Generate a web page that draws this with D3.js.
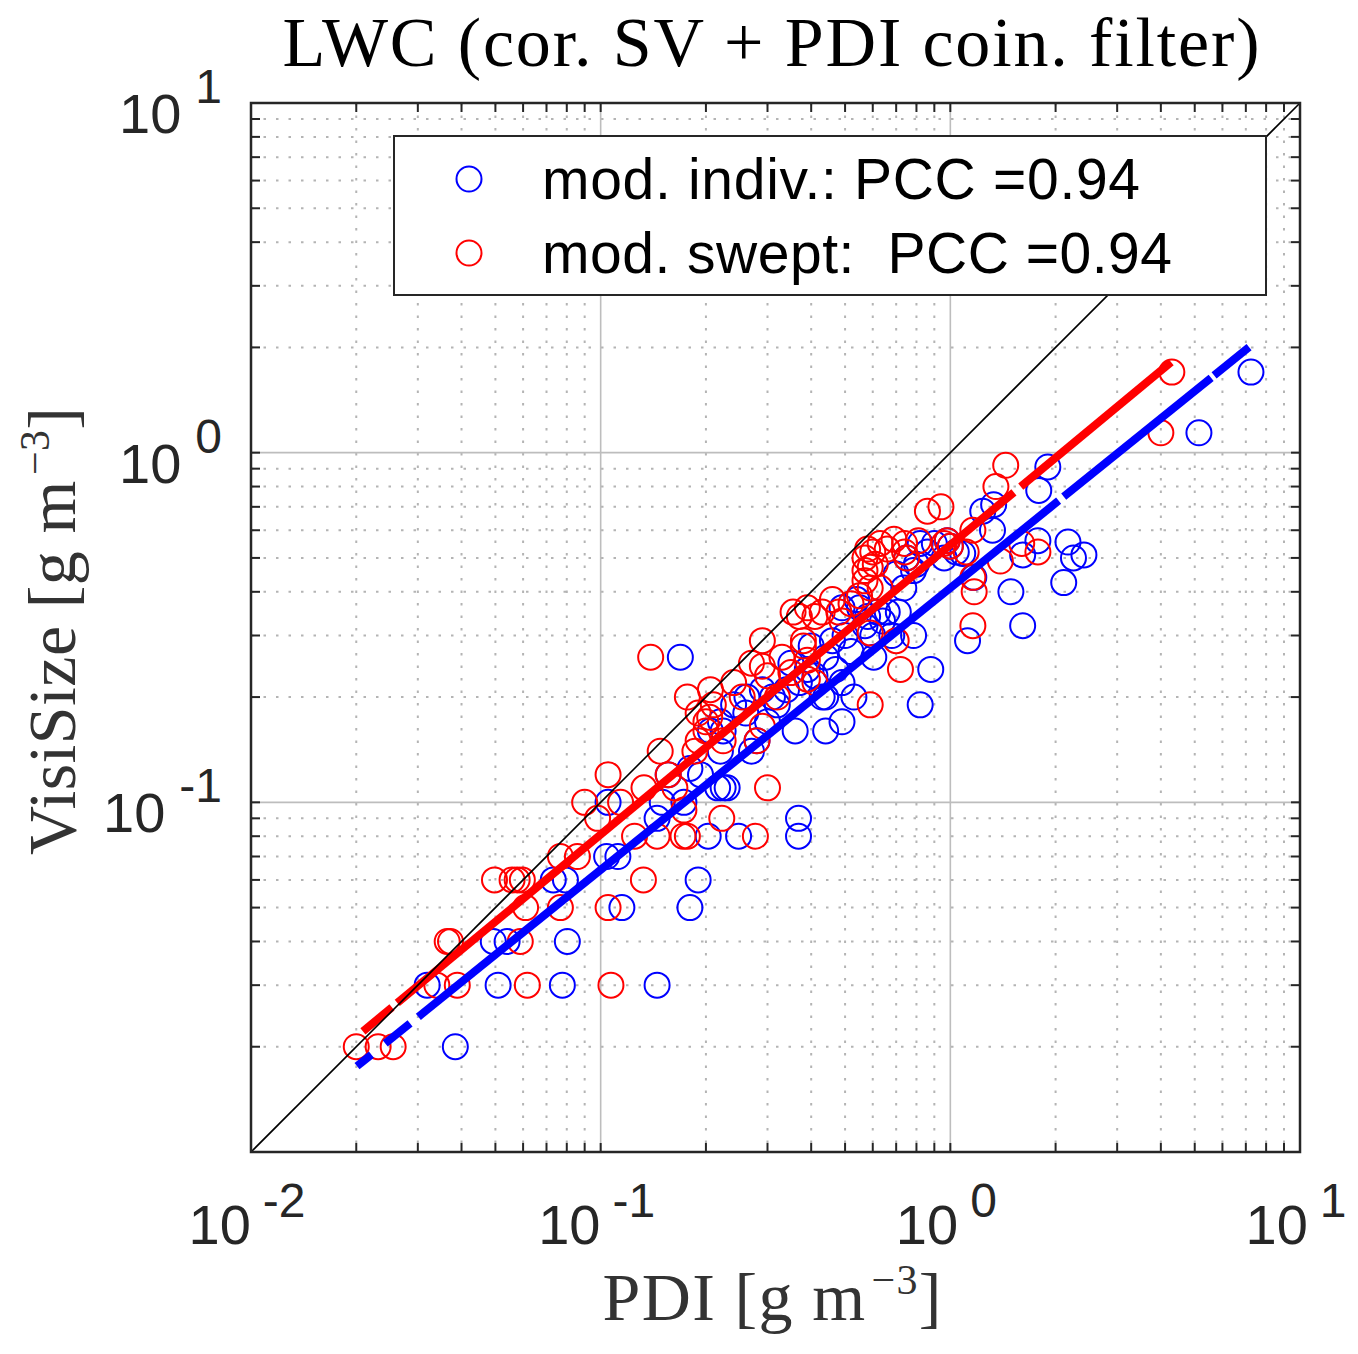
<!DOCTYPE html>
<html>
<head>
<meta charset="utf-8">
<script src="https://cdn.jsdelivr.net/npm/d3@7"></script>
<style>
  body { margin: 0; background: #fff; }
  svg { display: block; }
</style>
</head>
<body>
<svg id="chart" width="1358" height="1354"></svg>
<script>
// [PDI, VisiSize] in g m^-3
const indivPoints = [
  [0.0384, 0.02],
  [0.0319, 0.03], [0.0509, 0.03], [0.0777, 0.03], [0.145, 0.03],
  [0.0493, 0.04], [0.054, 0.04], [0.0803, 0.04],
  [0.115, 0.05], [0.18, 0.05],
  [0.0732, 0.06], [0.0793, 0.06], [0.19, 0.06],
  [0.104, 0.07], [0.112, 0.07],
  [0.203, 0.08], [0.248, 0.08], [0.368, 0.08],
  [0.145, 0.09], [0.368, 0.09],
  [0.105, 0.10], [0.15, 0.10], [0.173, 0.10],
  [0.216, 0.11], [0.224, 0.11], [0.23, 0.11],
  [0.156, 0.12], [0.193, 0.12], [0.18, 0.125],
  [0.22, 0.14], [0.27, 0.14],
  [0.28, 0.15], [0.206, 0.16], [0.224, 0.16], [0.36, 0.16], [0.44, 0.16],
  [0.49, 0.17], [0.22, 0.17], [0.3, 0.17], [0.26, 0.18],
  [0.24, 0.19], [0.32, 0.19], [0.82, 0.19],
  [0.262, 0.20], [0.31, 0.20], [0.43, 0.20], [0.44, 0.20], [0.53, 0.20],
  [0.34, 0.21], [0.29, 0.21], [0.37, 0.22], [0.49, 0.22], [0.41, 0.23],
  [0.39, 0.24], [0.47, 0.24], [0.879, 0.24], [0.35, 0.25],
  [0.169, 0.26], [0.44, 0.26], [0.604, 0.26], [0.52, 0.27], [0.4, 0.28],
  [0.46, 0.29], [1.12, 0.29],
  [0.68, 0.30], [0.6, 0.30], [0.5, 0.30], [0.785, 0.30],
  [0.57, 0.32], [1.61, 0.32], [0.64, 0.33],
  [0.58, 0.34], [0.62, 0.35], [0.66, 0.35], [0.71, 0.35],
  [0.49, 0.36], [0.55, 0.36], [0.54, 0.38],
  [1.49, 0.40], [0.736, 0.41], [2.11, 0.425], [1.167, 0.44],
  [0.7, 0.45], [0.785, 0.46], [0.8, 0.48],
  [0.75, 0.50], [0.96, 0.50], [2.25, 0.50], [1.61, 0.51], [2.41, 0.51],
  [0.86, 0.52], [1.04, 0.52], [1.085, 0.515], [1.0, 0.54],
  [0.82, 0.55], [0.9, 0.55], [2.17, 0.555], [0.98, 0.56], [1.78, 0.56],
  [1.32, 0.60], [1.238, 0.68], [1.33, 0.71], [1.79, 0.78], [1.9, 0.91],
  [5.14, 1.14], [7.24, 1.7]
];

const sweptPoints = [
  [0.020, 0.02], [0.0231, 0.02], [0.0255, 0.02],
  [0.034, 0.03], [0.0389, 0.03], [0.0617, 0.03], [0.107, 0.03],
  [0.0364, 0.04], [0.0372, 0.04], [0.0589, 0.04],
  [0.061, 0.05], [0.0767, 0.05], [0.105, 0.05],
  [0.0497, 0.06], [0.0558, 0.06], [0.0577, 0.06], [0.0597, 0.06], [0.1325, 0.06],
  [0.0767, 0.07], [0.0858, 0.07],
  [0.125, 0.08], [0.145, 0.08], [0.172, 0.08], [0.177, 0.08], [0.277, 0.08],
  [0.098, 0.09], [0.222, 0.09],
  [0.09, 0.10], [0.114, 0.10], [0.173, 0.095],
  [0.133, 0.11], [0.163, 0.11], [0.30, 0.11],
  [0.105, 0.12], [0.156, 0.12],
  [0.148, 0.14], [0.186, 0.14],
  [0.19, 0.15], [0.224, 0.15], [0.28, 0.15],
  [0.2, 0.16], [0.29, 0.165], [0.2, 0.17], [0.205, 0.175], [0.19, 0.18], [0.21, 0.19], [0.59, 0.19],
  [0.177, 0.20], [0.254, 0.20], [0.32, 0.20], [0.206, 0.21],
  [0.24, 0.22], [0.41, 0.22], [0.39, 0.225], [0.3, 0.23], [0.35, 0.235],
  [0.72, 0.24], [0.29, 0.245], [0.27, 0.25], [0.39, 0.255],
  [0.139, 0.26], [0.33, 0.26],
  [0.38, 0.28], [0.29, 0.29], [0.38, 0.29], [0.7, 0.29], [0.59, 0.305],
  [1.16, 0.32], [0.49, 0.33],
  [0.37, 0.34], [0.41, 0.34], [0.355, 0.35], [0.43, 0.35], [0.48, 0.35],
  [0.39, 0.36], [0.52, 0.37], [0.46, 0.38], [0.55, 0.39],
  [1.17, 0.40], [0.59, 0.41], [0.63, 0.41],
  [0.57, 0.43], [1.16, 0.44], [0.57, 0.46], [0.59, 0.47], [0.61, 0.48], [1.39, 0.49],
  [0.57, 0.50], [0.75, 0.50], [0.6, 0.52], [0.66, 0.53], [0.58, 0.53], [0.74, 0.52], [1.11, 0.52], [1.78, 0.52],
  [0.63, 0.55], [0.74, 0.55], [0.96, 0.55], [1.6, 0.55], [0.69, 0.565], [0.81, 0.56], [0.98, 0.56], [1.0, 0.54],
  [1.16, 0.60], [0.86, 0.68], [0.94, 0.70], [1.35, 0.80], [1.44, 0.92],
  [4.0, 1.14], [4.3, 1.7]
];

const seriesNames = ['mod. indiv.: PCC =0.94', 'mod. swept:  PCC =0.94'];
const seriesColors = ['#0000ff', '#ff0000'];

// power-law fits: log10(y) = intercept + slope * log10(x)
const fitSlope = [0.806, 0.828];
const fitIntercept = [-0.387, -0.264];
// x ranges of the drawn pieces of each fit line (gaps as in the figure)
const fitSegments = [
  [[0.0201, 0.0221], [0.0242, 0.0285], [0.0301, 2.04], [2.11, 5.57], [5.68, 7.15]],
  [[0.0209, 0.0253], [0.0262, 1.52], [1.59, 4.28]]
];

const majorTicks = [0.01, 0.1, 1, 10];
const tickExponents = ['-2', '-1', '0', '1'];
const yLabelTicks = [0.1, 1, 10];

const plotLeft = 251, plotTop = 103, plotSize = 1049;
const axisColor = '#262626';

const svg = d3.select('#chart');
const x = d3.scaleLog().domain([0.01, 10]).range([plotLeft, plotLeft + plotSize]);
const y = d3.scaleLog().domain([0.01, 10]).range([plotTop + plotSize, plotTop]);

const minorTicks = [];
majorTicks.slice(0, -1).forEach(m => {
  for (let k = 2; k <= 9; k++) minorTicks.push(m * k);
});

// grid
const grid = svg.append('g');
grid.selectAll('.minx').data(minorTicks).join('line')
  .attr('x1', d => x(d)).attr('x2', d => x(d))
  .attr('y1', plotTop).attr('y2', plotTop + plotSize)
  .attr('stroke', '#b4b4b4').attr('stroke-width', 2)
  .attr('stroke-dasharray', '2.5,10');
grid.selectAll('.miny').data(minorTicks).join('line')
  .attr('y1', d => y(d)).attr('y2', d => y(d))
  .attr('x1', plotLeft).attr('x2', plotLeft + plotSize)
  .attr('stroke', '#b4b4b4').attr('stroke-width', 2)
  .attr('stroke-dasharray', '2.5,10');
grid.selectAll('.majx').data(majorTicks.slice(1, -1)).join('line')
  .attr('x1', d => x(d)).attr('x2', d => x(d))
  .attr('y1', plotTop).attr('y2', plotTop + plotSize)
  .attr('stroke', '#bdbdbd').attr('stroke-width', 1.6);
grid.selectAll('.majy').data(majorTicks.slice(1, -1)).join('line')
  .attr('y1', d => y(d)).attr('y2', d => y(d))
  .attr('x1', plotLeft).attr('x2', plotLeft + plotSize)
  .attr('stroke', '#bdbdbd').attr('stroke-width', 1.6);

// scatter
const scatter = svg.append('g');
[indivPoints, sweptPoints].forEach((pts, i) => {
  scatter.append('g').selectAll('circle').data(pts).join('circle')
    .attr('cx', d => x(d[0]))
    .attr('cy', d => y(d[1]))
    .attr('r', 12.5)
    .attr('fill', 'none')
    .attr('stroke', seriesColors[i])
    .attr('stroke-width', 2);
});

// fit lines
const fitY = (i, v) => Math.pow(10, fitIntercept[i] + fitSlope[i] * Math.log10(v));
fitSegments.forEach((segs, i) => {
  svg.append('g').selectAll('line').data(segs).join('line')
    .attr('x1', d => x(d[0])).attr('y1', d => y(fitY(i, d[0])))
    .attr('x2', d => x(d[1])).attr('y2', d => y(fitY(i, d[1])))
    .attr('stroke', seriesColors[i])
    .attr('stroke-width', 8);
});

// 1:1 line
svg.append('line')
  .attr('x1', x(0.01)).attr('y1', y(0.01))
  .attr('x2', x(10)).attr('y2', y(10))
  .attr('stroke', '#000').attr('stroke-width', 1.6);

// ticks (inside, all four sides)
const ticks = svg.append('g').attr('stroke', axisColor).attr('stroke-width', 2);
const allTicks = majorTicks.concat(minorTicks);
const tl = 9;
allTicks.forEach(t => {
  ticks.append('line').attr('x1', x(t)).attr('x2', x(t)).attr('y1', plotTop + plotSize).attr('y2', plotTop + plotSize - tl);
  ticks.append('line').attr('x1', x(t)).attr('x2', x(t)).attr('y1', plotTop).attr('y2', plotTop + tl);
  ticks.append('line').attr('y1', y(t)).attr('y2', y(t)).attr('x1', plotLeft).attr('x2', plotLeft + tl);
  ticks.append('line').attr('y1', y(t)).attr('y2', y(t)).attr('x1', plotLeft + plotSize).attr('x2', plotLeft + plotSize - tl);
});

svg.append('rect')
  .attr('x', plotLeft).attr('y', plotTop).attr('width', plotSize).attr('height', plotSize)
  .attr('fill', 'none').attr('stroke', axisColor).attr('stroke-width', 2.5);

// tick labels
const tickFont = '"Liberation Sans", Arial, Helvetica, sans-serif';
majorTicks.forEach((t, i) => {
  const lab = svg.append('text')
    .attr('x', x(t) - 4).attr('y', plotTop + plotSize + 92)
    .attr('text-anchor', 'middle')
    .attr('font-family', tickFont).attr('fill', axisColor);
  lab.append('tspan').attr('font-size', 56).text('10');
  lab.append('tspan').attr('font-size', 48).attr('dx', 12).attr('dy', -27).text(tickExponents[i]);
});
yLabelTicks.forEach(t => {
  const i = majorTicks.indexOf(t);
  const lab = svg.append('text')
    .attr('x', 222).attr('y', y(t) + 30)
    .attr('text-anchor', 'end')
    .attr('font-family', tickFont).attr('fill', axisColor);
  lab.append('tspan').attr('font-size', 56).text('10');
  lab.append('tspan').attr('font-size', 48).attr('dx', 14).attr('dy', -30).text(tickExponents[i]);
});

// title and axis labels
const serif = '"Liberation Serif", "Times New Roman", serif';
svg.append('text')
  .attr('x', 771).attr('y', 66)
  .attr('text-anchor', 'middle')
  .attr('font-family', serif).attr('font-size', 70).attr('fill', '#000')
  .attr('textLength', 977).attr('lengthAdjust', 'spacing')
  .text('LWC (cor. SV + PDI coin. filter)');

function unitLabel(g, name, width) {
  const t = g.append('text')
    .attr('text-anchor', 'middle')
    .attr('font-family', serif).attr('font-size', 68).attr('fill', '#333')
    .attr('textLength', width).attr('lengthAdjust', 'spacing');
  t.append('tspan').text(name + ' [g m');
  t.append('tspan').attr('font-size', 42).attr('dx', 5).attr('dy', -26).text('\u22123');
  t.append('tspan').attr('dy', 26).text(']');
  return t;
}
unitLabel(svg.append('g').attr('transform', 'translate(772,1320)'), 'PDI', 339);
unitLabel(svg.append('g').attr('transform', 'translate(75,631) rotate(-90)'), 'VisiSize', 448);

// legend
const legend = svg.append('g');
legend.append('rect')
  .attr('x', 394).attr('y', 136).attr('width', 872).attr('height', 159)
  .attr('fill', '#fff').attr('stroke', axisColor).attr('stroke-width', 2);
const legendRows = [179, 253];
const legendWidths = [598, 630];
seriesNames.forEach((name, i) => {
  legend.append('circle')
    .attr('cx', 469).attr('cy', legendRows[i]).attr('r', 12.5)
    .attr('fill', 'none').attr('stroke', seriesColors[i]).attr('stroke-width', 2);
  legend.append('text')
    .attr('x', 542).attr('y', legendRows[i] + 20)
    .attr('font-family', tickFont).attr('font-size', 57).attr('fill', '#000')
    .style('white-space', 'pre')
    .attr('textLength', legendWidths[i]).attr('lengthAdjust', 'spacing')
    .text(name);
});
</script>
</body>
</html>
